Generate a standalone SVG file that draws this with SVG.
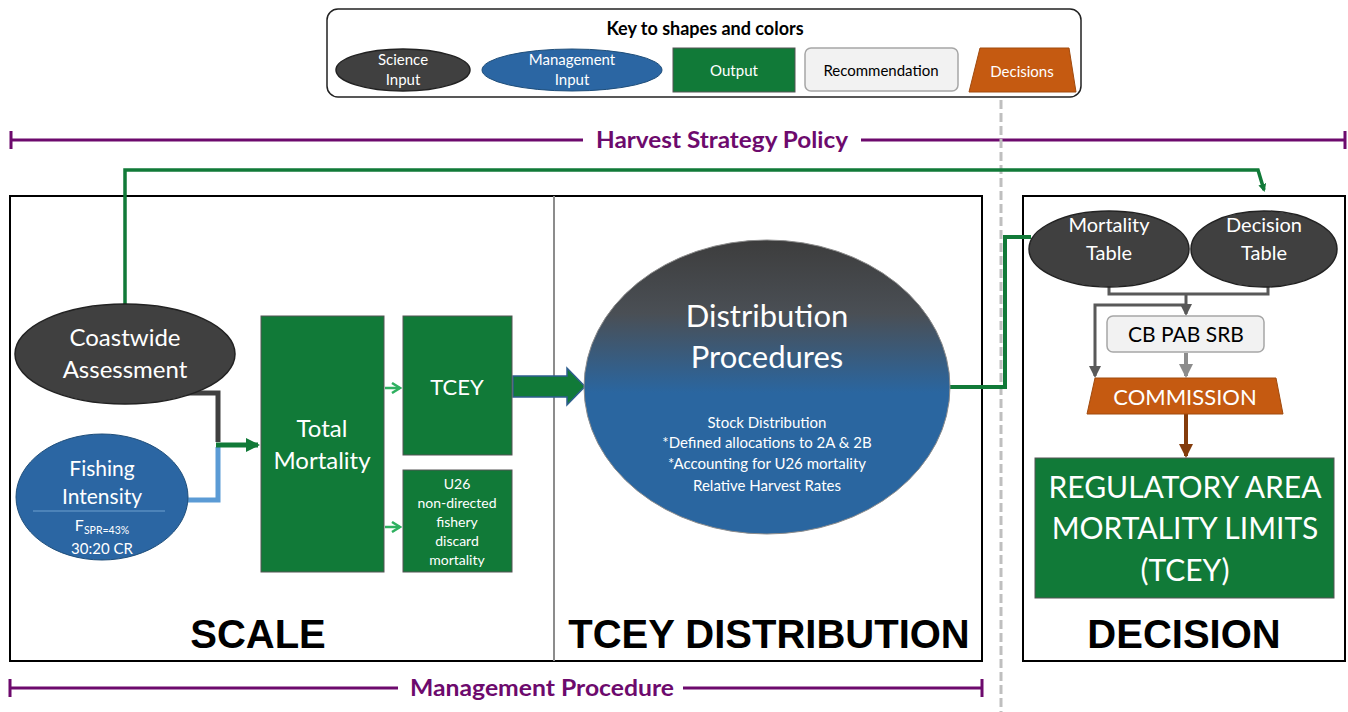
<svg xmlns="http://www.w3.org/2000/svg" width="1348" height="712" viewBox="0 0 1348 712">
<defs>
<style>
.t{font-family:Lato,"Open Sans",sans-serif;fill:#fff;text-anchor:middle}
.k{font-family:Lato,"Open Sans",sans-serif;text-anchor:middle}
.big{font-family:"Liberation Sans",Arial,sans-serif;font-weight:bold;fill:#000;text-anchor:middle;font-size:40px}
.pur{font-family:Lato,"Open Sans",sans-serif;font-weight:bold;fill:#6d0a6d;text-anchor:middle;font-size:23px}
.sci{fill:#404040;stroke:#222;stroke-width:1.5}
.mgt{fill:#2b66a3;stroke:#1f4e7a;stroke-width:1}
.out{fill:#117a38;stroke:#555;stroke-width:1}
.rec{fill:#f2f2f2;stroke:#a6a6a6;stroke-width:1.5}
.dec{fill:#c55a11;stroke:#a04a0e;stroke-width:1}
.pl{stroke:#6d0a6d;stroke-width:3;fill:none}
</style>
<linearGradient id="dg" x1="0" y1="0" x2="0" y2="1">
<stop offset="0" stop-color="#3d3d3d"/>
<stop offset="0.25" stop-color="#4a4f55"/>
<stop offset="0.52" stop-color="#2a66a0"/>
<stop offset="1" stop-color="#2a66a0"/>
</linearGradient>
<marker id="ag" markerWidth="8" markerHeight="8" refX="6" refY="4" orient="auto" markerUnits="userSpaceOnUse">
<path d="M0,0 L8,4 L0,8 Z" fill="#117a38"/>
</marker>
<marker id="agl" markerWidth="12" markerHeight="12" refX="10" refY="6" orient="auto" markerUnits="userSpaceOnUse">
<path d="M2,1 L10,6 L2,11" fill="none" stroke="#2fb060" stroke-width="2.5"/>
</marker>
<marker id="agr" markerWidth="14" markerHeight="14" refX="12" refY="7" orient="auto" markerUnits="userSpaceOnUse">
<path d="M0,0 L14,7 L0,14 Z" fill="#117a38"/>
</marker>
<marker id="adg" markerWidth="12" markerHeight="12" refX="10" refY="6" orient="auto" markerUnits="userSpaceOnUse">
<path d="M0,0 L12,6 L0,12 Z" fill="#595959"/>
</marker>
<marker id="alg" markerWidth="14" markerHeight="14" refX="12" refY="7" orient="auto" markerUnits="userSpaceOnUse">
<path d="M0,0 L14,7 L0,14 Z" fill="#8c8c8c"/>
</marker>
<marker id="abr" markerWidth="14" markerHeight="14" refX="12" refY="7" orient="auto" markerUnits="userSpaceOnUse">
<path d="M0,0 L14,7 L0,14 Z" fill="#843c0c"/>
</marker>
</defs>
<rect width="1348" height="712" fill="#fff"/>

<g id="key">
<rect x="327" y="9" width="754" height="88" rx="11" fill="#fff" stroke="#222" stroke-width="1.5"/>
<text class="k" x="705" y="35" font-size="18" font-weight="bold" fill="#000">Key to shapes and colors</text>
<ellipse class="sci" cx="403" cy="70" rx="67" ry="21"/>
<text class="t" x="403" y="65" font-size="15">Science</text>
<text class="t" x="403" y="85" font-size="15">Input</text>
<ellipse class="mgt" cx="572" cy="70" rx="90" ry="21"/>
<text class="t" x="572" y="65" font-size="15">Management</text>
<text class="t" x="572" y="85" font-size="15">Input</text>
<rect class="out" x="673" y="48" width="122" height="44"/>
<text class="t" x="734" y="76" font-size="15">Output</text>
<rect class="rec" x="805" y="48" width="153" height="43" rx="6"/>
<text class="k" x="881" y="76" font-size="15" fill="#000">Recommendation</text>
<path class="dec" d="M980,48 L1069,48 L1076,92 L969,92 Z"/>
<text class="t" x="1022" y="77" font-size="15">Decisions</text>
</g>

<g id="harvest-strategy-policy">
<path class="pl" d="M11,140 H583 M861,140 H1345 M11,131 V149 M1345,131 V149"/>
<text class="pur" x="722" y="148" textLength="252" lengthAdjust="spacingAndGlyphs">Harvest Strategy Policy</text>
</g>

<g id="divider">
<line x1="1001" y1="100" x2="1001" y2="712" stroke="#bfbfbf" stroke-width="3" stroke-dasharray="9,4"/>
</g>

<g id="scale-distribution-panel">
<rect x="10" y="196" width="972" height="465" fill="none" stroke="#000" stroke-width="2"/>
<line x1="554" y1="196" x2="554" y2="661" stroke="#8c8c8c" stroke-width="2"/>
<text class="big" x="258" y="648">SCALE</text>
<text class="big" x="769" y="648">TCEY DISTRIBUTION</text>
</g>

<g id="decision-panel">
<rect x="1023" y="196" width="322" height="465" fill="none" stroke="#000" stroke-width="2"/>
<text class="big" x="1184" y="648">DECISION</text>
</g>

<g id="connectors">
<path d="M125,305 V170 H1258 L1264,190" fill="none" stroke="#117a38" stroke-width="3.5" marker-end="url(#ag)"/>
<path d="M187,393 H218 V442" fill="none" stroke="#404040" stroke-width="5"/>
<path d="M187,500 H218 V447" fill="none" stroke="#5b9bd5" stroke-width="5"/>
<path d="M216,445 H258" fill="none" stroke="#117a38" stroke-width="5" marker-end="url(#agr)"/>
<path d="M385,388 H400" fill="none" stroke="#2fb060" stroke-width="2.5" marker-end="url(#agl)"/>
<path d="M385,527 H400" fill="none" stroke="#2fb060" stroke-width="2.5" marker-end="url(#agl)"/>
<path d="M513,376 H567 V368 L585,386.5 L567,405 V397 H513 Z" fill="#117a38" stroke="#2e5e8e" stroke-width="1.5"/>
<path d="M950,387 H1005 V237 H1031" fill="none" stroke="#117a38" stroke-width="4"/>
<path d="M1109,285 V294 H1268 V285" fill="none" stroke="#595959" stroke-width="3"/>
<path d="M1186,294 V314" fill="none" stroke="#595959" stroke-width="3" marker-end="url(#adg)"/>
<path d="M1186,305 H1095 V376" fill="none" stroke="#595959" stroke-width="3" marker-end="url(#adg)"/>
<path d="M1186,353 V376" fill="none" stroke="#8c8c8c" stroke-width="4" marker-end="url(#alg)"/>
<path d="M1186,414 V456" fill="none" stroke="#843c0c" stroke-width="4" marker-end="url(#abr)"/>
</g>

<g id="coastwide-assessment">
<ellipse class="sci" cx="125" cy="354" rx="110" ry="50"/>
<text class="t" x="125" y="346" font-size="24">Coastwide</text>
<text class="t" x="125" y="378" font-size="24">Assessment</text>
</g>

<g id="fishing-intensity">
<ellipse class="mgt" cx="102" cy="497" rx="86" ry="63"/>
<text class="t" x="102" y="476" font-size="21">Fishing</text>
<text class="t" x="102" y="504" font-size="21">Intensity</text>
<line x1="33" y1="511" x2="165" y2="511" stroke="#6fa0d0" stroke-width="1.2"/>
<text class="t" x="102" y="531" font-size="16">F<tspan font-size="10.5" dy="3">SPR=43%</tspan></text>
<text class="t" x="102" y="554" font-size="15">30:20 CR</text>
</g>

<g id="total-mortality">
<rect class="out" x="261" y="316" width="123" height="256"/>
<text class="t" x="322" y="437" font-size="24">Total</text>
<text class="t" x="322" y="469" font-size="24">Mortality</text>
</g>

<g id="tcey">
<rect class="out" x="403" y="316" width="109" height="139"/>
<text class="t" x="457" y="395" font-size="22">TCEY</text>
</g>

<g id="u26">
<rect class="out" x="403" y="470" width="109" height="102"/>
<text class="t" x="457" y="489" font-size="14">U26</text>
<text class="t" x="457" y="508" font-size="14">non-directed</text>
<text class="t" x="457" y="527" font-size="14">fishery</text>
<text class="t" x="457" y="546" font-size="14">discard</text>
<text class="t" x="457" y="565" font-size="14">mortality</text>
</g>

<g id="distribution-procedures">
<ellipse cx="767" cy="387" rx="183" ry="147" fill="url(#dg)" stroke="#8c8c8c" stroke-width="1"/>
<text class="t" x="767" y="327" font-size="31">Distribution</text>
<text class="t" x="767" y="368" font-size="31">Procedures</text>
<text class="t" x="767" y="428" font-size="15">Stock Distribution</text>
<text class="t" x="767" y="448" font-size="15">*Defined allocations to 2A &amp; 2B</text>
<text class="t" x="767" y="469" font-size="15">*Accounting for U26 mortality</text>
<text class="t" x="767" y="491" font-size="15">Relative Harvest Rates</text>
</g>

<g id="mortality-table">
<ellipse class="sci" cx="1109" cy="249" rx="80" ry="38"/>
<text class="t" x="1109" y="232" font-size="20">Mortality</text>
<text class="t" x="1109" y="260" font-size="20">Table</text>
</g>

<g id="decision-table">
<ellipse class="sci" cx="1264" cy="249" rx="73" ry="38"/>
<text class="t" x="1264" y="232" font-size="20">Decision</text>
<text class="t" x="1264" y="260" font-size="20">Table</text>
</g>

<g id="cb-pab-srb">
<rect class="rec" x="1107" y="316" width="157" height="36" rx="6"/>
<text class="k" x="1186" y="342" font-size="21" fill="#000">CB PAB SRB</text>
</g>

<g id="commission">
<path class="dec" d="M1095,378 L1276,378 L1283,414 L1087,414 Z"/>
<text class="t" x="1185" y="405" font-size="22">COMMISSION</text>
</g>

<g id="regulatory-area-mortality-limits">
<rect class="out" x="1035" y="458" width="299" height="140"/>
<text class="t" x="1185" y="498" font-size="30">REGULATORY AREA</text>
<text class="t" x="1185" y="539" font-size="30">MORTALITY LIMITS</text>
<text class="t" x="1185" y="581" font-size="30">(TCEY)</text>
</g>

<g id="management-procedure">
<path class="pl" d="M10,688 H398 M683,688 H982 M10,679 V697 M982,679 V697"/>
<text class="pur" x="542" y="696" textLength="264" lengthAdjust="spacingAndGlyphs">Management Procedure</text>
</g>
</svg>
